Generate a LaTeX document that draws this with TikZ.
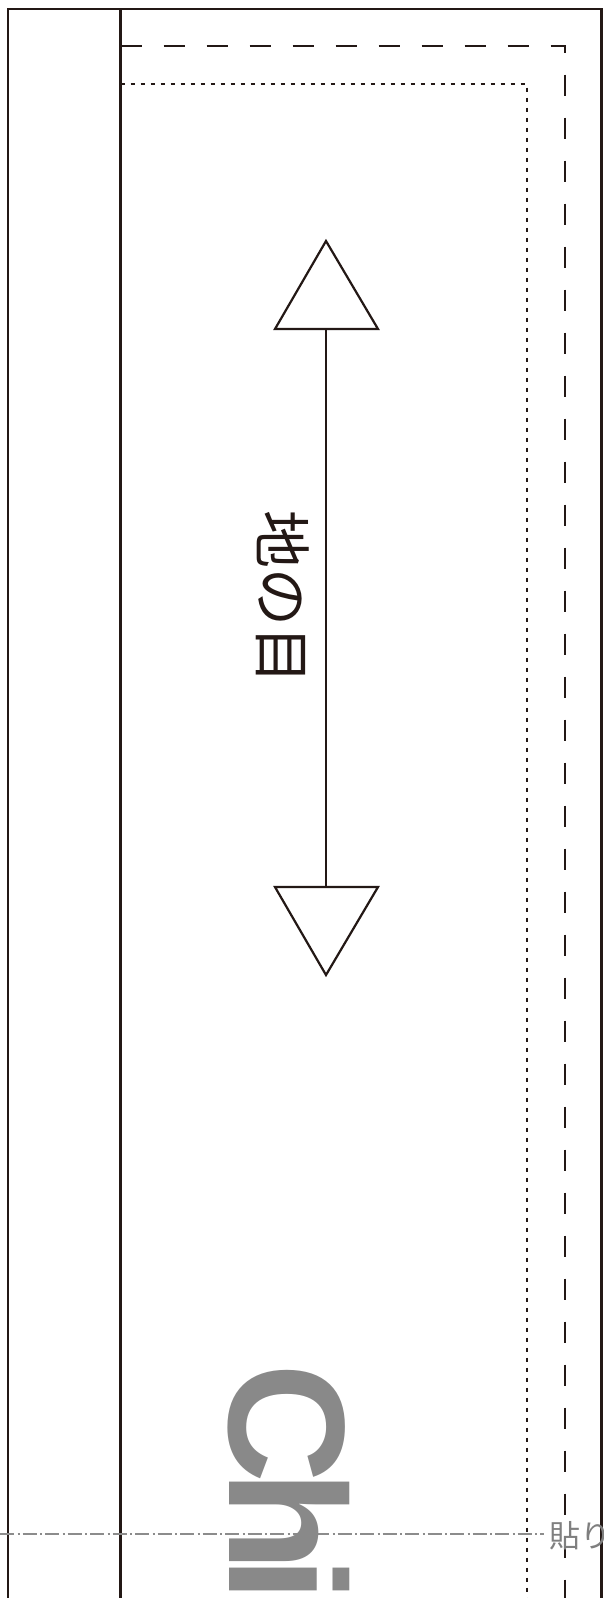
\documentclass[tikz,border=0pt]{standalone}
\usepackage{fontspec}
\newfontfamily\cjk{Noto Sans CJK JP}
\newfontfamily\chifont{Liberation Sans}
\definecolor{ink}{HTML}{231815}
\definecolor{chigrey}{HTML}{898989}
\definecolor{foldgrey}{HTML}{8C8C8C}
\definecolor{labelgrey}{HTML}{7F7F7F}
\tikzset{
  frameline/.style={draw=ink, line width=2.3pt},
  seamline/.style={draw=ink, line width=2.3pt, dash pattern=on 21pt off 22pt},
  cutline/.style={draw=ink, line width=2.3pt, dash pattern=on 4pt off 6pt},
  foldline/.style={draw=foldgrey, line width=2.2pt, dash pattern=on 14pt off 3.5pt on 2pt off 3pt},
  tri/.style={draw=ink, line width=2.2pt, fill=white, line join=miter},
  grainline/.style={draw=ink, line width=1.8pt},
}
\begin{document}
\begin{tikzpicture}[x=1pt,y=-1pt]
\useasboundingbox (0,0) rectangle (604,1598);
\clip (0,0) rectangle (604,1598);
% frame
\coordinate (fBL) at (8,1600);
\coordinate (fTL) at (8,9);
\coordinate (fTR) at (601.5,9);
\coordinate (fBR) at (601.5,1600);
\draw[frameline] (fBL) -- (fTL) -- (fTR) -- (fBR);
\coordinate (iT) at (120.5,9);
\coordinate (iB) at (120.5,1600);
\draw[frameline] (iT) -- (iB);
% seam allowance (dashed)
\coordinate (sL) at (120.5,46);
\coordinate (sC) at (565,46);
\coordinate (sB) at (565,1600);
\draw[seamline] (sL) -- (sC) -- (sB);
% finished line (dotted)
\coordinate (dL) at (120.5,84);
\coordinate (dC) at (527,84);
\coordinate (dB) at (527,1600);
\draw[cutline] (dL) -- (dC) -- (dB);
% grain arrow
\coordinate (tA) at (326,241);
\coordinate (tL) at (275,329);
\coordinate (tR) at (378,329);
\coordinate (tBase) at (326,329);
\coordinate (bA) at (326,975);
\coordinate (bL) at (275,887);
\coordinate (bR) at (378,887);
\coordinate (bBase) at (326,887);
\draw[grainline] (tBase) -- (bBase);
\draw[tri] (tL) -- (tR) -- (tA) -- cycle;
\draw[tri] (bL) -- (bR) -- (bA) -- cycle;
\node[rotate=-90, inner sep=0, text=ink, font=\cjk\fontsize{58}{58}\selectfont] (grain) at (283,597) {地の目};
% fold line
\coordinate (foldS) at (0,1534);
\coordinate (foldE) at (544,1534);
\draw[foldline] (foldS) -- (foldE);
\node[anchor=west, inner sep=0, text=labelgrey, font=\cjk\fontsize{31}{31}\selectfont] (paste) at (549,1536) {貼り};
% Chi
\node[rotate=-90, anchor=base west, inner sep=0, text=chigrey, font=\chifont\bfseries\fontsize{166}{166}\selectfont] (chi) at (229,1363) {C\kern-12.6pt h\kern-15pt i};
\end{tikzpicture}
\end{document}
